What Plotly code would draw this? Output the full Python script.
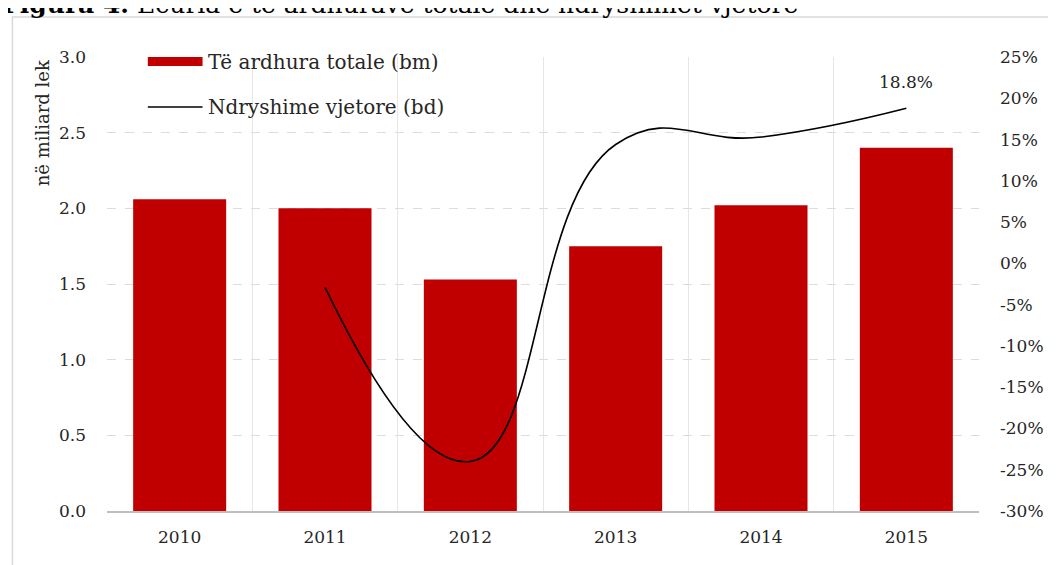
import plotly.graph_objects as go

years = ["2010", "2011", "2012", "2013", "2014", "2015"]
revenue = [2.06, 2.00, 1.53, 1.75, 2.02, 2.40]          # në miliard lek (bm)
change_years = ["2011", "2012", "2013", "2014", "2015"]
change_pct = [-2.9, -24.0, 14.4, 15.3, 18.8]            # ndryshime vjetore % (bd)
y_ticks = [0.0, 0.5, 1.0, 1.5, 2.0, 2.5, 3.0]
y2_ticks = list(range(-30, 30, 5))
y2_labels = [f"{v}%" for v in y2_ticks]

OFF = 8  # default page margin of the html body
W, H = 1048, 557
L, T = 107 - OFF, 57 - OFF
R = W - (983 - OFF)
B = H - (511 - OFF)
PW, PH = W - L - R, H - T - B

def px(x):
    return (x - OFF - L) / PW

def py(y):
    return (H - B - (y - OFF)) / PH

FONT = "DejaVu Serif"
RED = "#C00000"
TXT = "#262626"

fig = go.Figure()
fig.add_trace(go.Bar(x=years, y=revenue, marker=dict(color=RED, line=dict(width=0)),
                     width=0.64, name="Të ardhura totale (bm)", showlegend=False))
fig.add_trace(go.Scatter(x=change_years, y=change_pct, yaxis="y2", mode="lines",
                         line=dict(color="black", width=1.6, shape="spline", smoothing=1.3),
                         name="Ndryshime vjetore (bd)", showlegend=False))

fig.update_layout(
    width=W, height=H,
    margin=dict(l=L, r=R, t=T, b=B),
    paper_bgcolor="white", plot_bgcolor="white",
    font=dict(family=FONT, size=17, color=TXT),
    xaxis=dict(type="category", categoryarray=years, categoryorder="array",
               tickson="boundaries", showgrid=True, gridcolor="#E6E6E6",
               gridwidth=1, showline=True, linecolor="#BFBFBF", linewidth=1.5,
               ticks="", ticklabelstandoff=10, tickfont=dict(size=17, family=FONT, color=TXT),
               range=[-0.5, len(years) - 0.5]),
    yaxis=dict(range=[0, 3], tickvals=y_ticks, tickformat=".1f", showgrid=True,
               gridcolor="#DDDDDD", griddash="dash", gridwidth=1, zeroline=False,
               ticks="", ticklabelstandoff=20, tickfont=dict(size=17, family=FONT, color=TXT)),
    yaxis2=dict(range=[-30, 25], tickvals=y2_ticks, ticktext=y2_labels, overlaying="y",
                side="right", showgrid=False, zeroline=False, ticks="",
                ticklabelstandoff=20, tickfont=dict(size=17, family=FONT, color=TXT)),
)

annotations = [
    dict(x=years.index(change_years[-1]), y=change_pct[-1], xref="x", yref="y2", text="18.8%",
         showarrow=False, yshift=26, font=dict(size=17, family=FONT, color=TXT)),
    dict(x=px(42), y=py(123), xref="paper", yref="paper", text="në miliard lek",
         textangle=-90, showarrow=False, xanchor="center", yanchor="middle",
         font=dict(size=18, family=FONT, color=TXT)),
    dict(x=px(206), y=py(62), xref="paper", yref="paper", text="Të ardhura totale (bm)",
         showarrow=False, xanchor="left", yanchor="middle",
         font=dict(size=20, family=FONT, color=TXT)),
    dict(x=px(206), y=py(107), xref="paper", yref="paper", text="Ndryshime vjetore (bd)",
         showarrow=False, xanchor="left", yanchor="middle",
         font=dict(size=20, family=FONT, color=TXT)),
    dict(x=px(0), y=py(0), xref="paper", yref="paper",
         text="<b>Figura 4.</b> Ecuria e të ardhurave totale dhe ndryshimet vjetore",
         showarrow=False, xanchor="left", yanchor="bottom", yshift=-21,
         font=dict(size=25, family=FONT, color="black")),
]
fig.update_layout(annotations=annotations)

shapes = [
    dict(type="rect", xref="paper", yref="paper", x0=px(148), x1=px(203), y0=py(66), y1=py(57),
         fillcolor=RED, line=dict(width=0)),
    dict(type="line", xref="paper", yref="paper", x0=px(148), x1=px(203), y0=py(107), y1=py(107),
         line=dict(color="black", width=1.5)),
    dict(type="rect", xref="paper", yref="paper", x0=px(12), x1=px(1080), y0=py(600), y1=py(17),
         line=dict(color="#D9D9D9", width=1.5), fillcolor="rgba(0,0,0,0)", layer="below"),
]
fig.update_layout(shapes=shapes)

fig.write_html("out.html")
